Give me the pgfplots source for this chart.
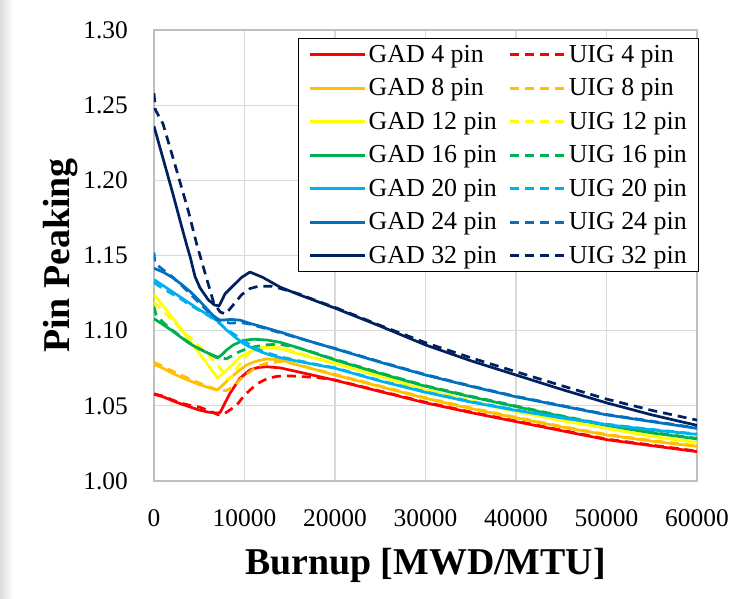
\documentclass[border=0pt]{standalone}
\usepackage{fontspec}
\setmainfont{Liberation Serif}
\usepackage{pgfplots}
\pgfplotsset{compat=1.18}
\definecolor{cRed}{HTML}{FF0000}
\definecolor{cOrange}{HTML}{FFC000}
\definecolor{cYellow}{HTML}{FFFF00}
\definecolor{cGreen}{HTML}{00B050}
\definecolor{cLBlue}{HTML}{00B0F0}
\definecolor{cBlue}{HTML}{0070C0}
\definecolor{cNavy}{HTML}{002060}
\pgfplotsset{
  gad/.style={line width=2.7bp, line join=round, solid},
  uig/.style={line width=2.7bp, line join=round, dash pattern=on 9bp off 6bp},
}
\begin{document}
\begin{tikzpicture}
\path[use as bounding box] (-154bp,-118bp) rectangle (591bp,481bp);
\fill[white] (-154bp,-118bp) rectangle (591bp,481bp);
\shade[left color=black!14, right color=white] (-154bp,-118bp) rectangle (-141bp,481bp);
\begin{axis}[
  at={(0,0)}, anchor=south west,
  scale only axis, width=543bp, height=451bp,
  xmin=0, xmax=60000, ymin=1, ymax=1.3,
  xtick={0,10000,20000,30000,40000,50000,60000},
  ytick={1.00,1.05,1.10,1.15,1.20,1.25,1.30},
  scaled x ticks=false, scaled y ticks=false,
  grid=major,
  major grid style={draw=black!15, line width=1.2bp},
  axis line style={draw=black!25, line width=1.5bp},
  major tick length=0pt,
  tick style={draw=none},
  /pgf/number format/assume math mode=true,
  xticklabel style={/pgf/number format/fixed, /pgf/number format/set thousands separator={}, anchor=base, inner sep=0pt, yshift=-45bp},
  yticklabel style={/pgf/number format/fixed, /pgf/number format/fixed zerofill, /pgf/number format/precision=2, anchor=east, inner sep=0pt, xshift=-26bp},
  tick label style={font=\fontsize{25.5}{25.5}\selectfont},
  xlabel={Burnup [MWD/MTU]},
  ylabel={Pin Peaking},
  label style={font=\fontsize{38}{38}\selectfont\bfseries},
  xlabel style={at={(axis description cs:0.5,-0.2062)}, anchor=base},
  ylabel style={at={(axis description cs:-0.1547,0.5)}, anchor=base},
  legend columns=2,
  legend cell align=left,
  legend image code/.code={\draw[#1, line width=3bp] (0bp,0bp) -- (55bp,0bp);},
  legend style={at={(axis description cs:0.2653,0.983)}, anchor=north west,
    draw=black, line width=1.3bp, fill=white,
    font=\fontsize{26}{26}\selectfont,
    inner xsep=10bp, inner ysep=5bp, row sep=10.8bp,
    nodes={inner sep=2bp},
    /tikz/every even column/.append style={column sep=10bp}},
]
% GAD 4 / UIG 4
\addplot[gad, cRed] coordinates {(0,1.0577)(1000,1.0560)(2000,1.0535)(3000,1.0512)(4000,1.0492)(5000,1.0472)(6000,1.0458)(6900,1.0452)(7300,1.0455)(8400,1.0584)(9500,1.0683)(10600,1.0739)(11500,1.0755)(12450,1.0760)(14000,1.0752)(16000,1.0725)(18000,1.0698)(20000,1.0670)(25000,1.0595)(30000,1.0520)(35000,1.0455)(40000,1.0395)(45000,1.0335)(50000,1.0275)(55000,1.0235)(60000,1.0195)};
\addlegendentry{GAD 4 pin}
\addplot[uig, cRed] coordinates {(0,1.0580)(1000,1.0565)(2000,1.0540)(3000,1.0518)(4000,1.0503)(5000,1.0492)(6000,1.0470)(7100,1.0440)(7700,1.0445)(8700,1.0485)(9300,1.0517)(10000,1.0570)(10600,1.0605)(11500,1.0650)(12450,1.0680)(13500,1.0695)(14500,1.0700)(16000,1.0696)(18000,1.0688)(20000,1.0672)(25000,1.0598)(30000,1.0524)(35000,1.0459)(40000,1.0399)(45000,1.0339)(50000,1.0279)(55000,1.0239)(60000,1.0199)};
\addlegendentry{UIG 4 pin}
% GAD 8 / UIG 8
\addplot[gad, cOrange] coordinates {(0,1.0776)(1000,1.0750)(2000,1.0718)(3000,1.0690)(4000,1.0665)(5000,1.0642)(6000,1.0622)(7000,1.0605)(8400,1.0683)(9300,1.0730)(10240,1.0772)(11300,1.0797)(12450,1.0812)(14000,1.0806)(16000,1.0770)(18000,1.0738)(20000,1.0705)(25000,1.0628)(30000,1.0550)(35000,1.0482)(40000,1.0420)(45000,1.0360)(50000,1.0306)(55000,1.0265)(60000,1.0230)};
\addlegendentry{GAD 8 pin}
\addplot[uig, cOrange] coordinates {(0,1.0790)(1000,1.0762)(2000,1.0732)(3000,1.0705)(4000,1.0677)(5000,1.0652)(6000,1.0628)(7300,1.0600)(8000,1.0602)(8760,1.0627)(9600,1.0680)(10600,1.0727)(11500,1.0765)(12450,1.0783)(14000,1.0795)(16000,1.0772)(18000,1.0740)(20000,1.0709)(25000,1.0632)(30000,1.0554)(35000,1.0486)(40000,1.0424)(45000,1.0364)(50000,1.0310)(55000,1.0269)(60000,1.0234)};
\addlegendentry{UIG 8 pin}
% GAD 12 / UIG 12
\addplot[gad, cYellow] coordinates {(0,1.1240)(1000,1.1165)(2000,1.1090)(3000,1.1010)(4000,1.0930)(5000,1.0850)(6000,1.0770)(7000,1.0685)(7800,1.0725)(8600,1.0770)(9500,1.0825)(10600,1.0860)(11200,1.0870)(12450,1.0888)(14000,1.0880)(16000,1.0845)(18000,1.0812)(20000,1.0782)(25000,1.0695)(30000,1.0605)(35000,1.0530)(40000,1.0462)(45000,1.0402)(50000,1.0350)(55000,1.0297)(60000,1.0255)};
\addlegendentry{GAD 12 pin}
\addplot[uig, cYellow] coordinates {(0,1.1190)(1000,1.1130)(2000,1.1070)(3000,1.1010)(4000,1.0950)(5000,1.0895)(6000,1.0840)(7000,1.0775)(7500,1.0735)(8200,1.0675)(8600,1.0688)(9000,1.0730)(9600,1.0790)(10600,1.0855)(11500,1.0882)(12500,1.0898)(14000,1.0888)(16000,1.0850)(18000,1.0816)(20000,1.0786)(25000,1.0699)(30000,1.0609)(35000,1.0534)(40000,1.0466)(45000,1.0406)(50000,1.0354)(55000,1.0301)(60000,1.0259)};
\addlegendentry{UIG 12 pin}
% GAD 16 / UIG 16
\addplot[gad, cGreen] coordinates {(0,1.1080)(1000,1.1040)(2000,1.1000)(3000,1.0955)(4000,1.0912)(5000,1.0878)(6000,1.0850)(7000,1.0818)(7500,1.0840)(8000,1.0870)(8760,1.0905)(9500,1.0925)(10240,1.0938)(11000,1.0943)(12450,1.0938)(14000,1.0922)(16000,1.0885)(18000,1.0845)(20000,1.0805)(25000,1.0715)(30000,1.0630)(35000,1.0560)(40000,1.0495)(45000,1.0430)(50000,1.0370)(55000,1.0320)(60000,1.0280)};
\addlegendentry{GAD 16 pin}
\addplot[uig, cGreen] coordinates {(0,1.1160)(200,1.1110)(1000,1.1055)(2000,1.1005)(3000,1.0958)(4000,1.0915)(5000,1.0880)(6000,1.0850)(7000,1.0825)(8000,1.0812)(8500,1.0830)(9500,1.0862)(10500,1.0885)(11340,1.0896)(12500,1.0906)(13660,1.0910)(15000,1.0898)(16000,1.0885)(18000,1.0848)(20000,1.0809)(25000,1.0719)(30000,1.0634)(35000,1.0564)(40000,1.0499)(45000,1.0434)(50000,1.0374)(55000,1.0324)(60000,1.0284)};
\addlegendentry{UIG 16 pin}
% GAD 20 / UIG 20
\addplot[gad, cLBlue] coordinates {(0,1.1340)(1000,1.1300)(2000,1.1260)(3000,1.1220)(4000,1.1180)(5000,1.1140)(6000,1.1105)(7000,1.1065)(8000,1.1005)(9000,1.0955)(10000,1.0910)(11000,1.0880)(12000,1.0855)(13000,1.0835)(14000,1.0820)(16000,1.0795)(18000,1.0772)(20000,1.0750)(25000,1.0665)(30000,1.0590)(35000,1.0525)(40000,1.0470)(45000,1.0420)(50000,1.0375)(55000,1.0340)(60000,1.0310)};
\addlegendentry{GAD 20 pin}
\addplot[uig, cLBlue] coordinates {(0,1.1320)(1000,1.1280)(2000,1.1245)(3000,1.1210)(4000,1.1170)(5000,1.1135)(6000,1.1100)(7000,1.1060)(8000,1.1010)(9000,1.0970)(10000,1.0930)(11000,1.0892)(12000,1.0862)(14000,1.0825)(16000,1.0800)(18000,1.0775)(20000,1.0753)(25000,1.0668)(30000,1.0593)(35000,1.0528)(40000,1.0473)(45000,1.0423)(50000,1.0378)(55000,1.0343)(60000,1.0313)};
\addlegendentry{UIG 20 pin}
% GAD 24 / UIG 24
\addplot[gad, cBlue] coordinates {(0,1.1415)(1000,1.1390)(2000,1.1355)(3000,1.1310)(4000,1.1260)(5000,1.1200)(6000,1.1135)(6930,1.1075)(7500,1.1070)(8500,1.1075)(9500,1.1070)(10500,1.1050)(12000,1.1025)(14000,1.0990)(16000,1.0952)(18000,1.0915)(20000,1.0880)(25000,1.0790)(30000,1.0705)(35000,1.0630)(40000,1.0560)(45000,1.0500)(50000,1.0440)(55000,1.0395)(60000,1.0350)};
\addlegendentry{GAD 24 pin}
\addplot[uig, cBlue] coordinates {(0,1.1520)(100,1.1450)(1000,1.1405)(2000,1.1360)(3240,1.1290)(4000,1.1245)(5000,1.1185)(6000,1.1125)(7000,1.1080)(7500,1.1060)(8500,1.1050)(9500,1.1055)(10500,1.1045)(12000,1.1020)(14000,1.0985)(16000,1.0950)(18000,1.0915)(20000,1.0882)(25000,1.0793)(30000,1.0708)(35000,1.0633)(40000,1.0563)(45000,1.0503)(50000,1.0443)(55000,1.0398)(60000,1.0353)};
\addlegendentry{UIG 24 pin}
% GAD 32 / UIG 32
\addplot[gad, cNavy] coordinates {(0,1.2360)(1000,1.2145)(2000,1.1930)(3000,1.1705)(3610,1.1570)(4000,1.1490)(4530,1.1360)(5080,1.1285)(6000,1.1205)(6700,1.1170)(7200,1.1165)(7850,1.1245)(8760,1.1300)(9700,1.1355)(10600,1.1390)(12000,1.1355)(13920,1.1290)(16000,1.1240)(18000,1.1195)(20000,1.1150)(25000,1.1030)(30000,1.0905)(35000,1.0800)(40000,1.0705)(45000,1.0610)(50000,1.0520)(55000,1.0440)(60000,1.0370)};
\addlegendentry{GAD 32 pin}
\addplot[uig, cNavy] coordinates {(0,1.2580)(150,1.2470)(1000,1.2375)(2000,1.2170)(2700,1.2025)(3800,1.1795)(4700,1.1580)(5800,1.1350)(6600,1.1185)(7300,1.1125)(7900,1.1110)(8600,1.1160)(9700,1.1240)(10600,1.1280)(11500,1.1295)(13000,1.1295)(14000,1.1280)(16000,1.1245)(18000,1.1198)(20000,1.1155)(25000,1.1035)(30000,1.0920)(35000,1.0820)(40000,1.0727)(45000,1.0635)(50000,1.0545)(55000,1.0470)(60000,1.0405)};
\addlegendentry{UIG 32 pin}
\end{axis}
\end{tikzpicture}
\end{document}
